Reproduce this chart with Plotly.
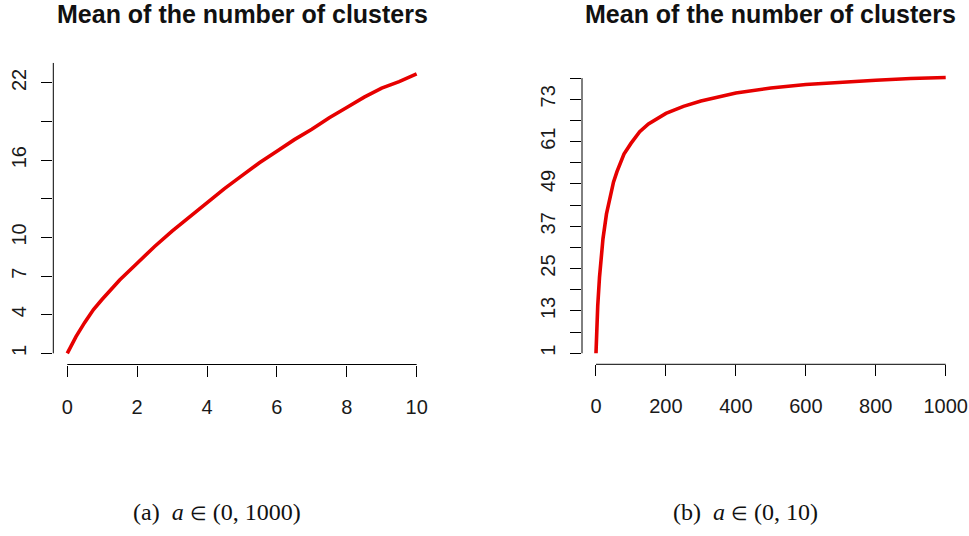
import plotly.graph_objects as go

# Mean number of clusters as a function of the concentration parameter a
a_small = [0, 0.25, 0.5, 0.75, 1, 1.5, 2, 2.5, 3, 3.5, 4, 4.5, 5, 5.5, 6,
           6.5, 7, 7.5, 8, 8.5, 9, 9.5, 10]
mean_small = [1.0, 2.3, 3.4, 4.4, 5.2, 6.7, 8.0, 9.3, 10.5, 11.6, 12.7, 13.8,
              14.8, 15.8, 16.7, 17.6, 18.4, 19.3, 20.1, 20.9, 21.6, 22.1, 22.7]

a_large = [0, 1, 2, 5, 10, 15, 20, 30, 40, 50, 60, 80, 100, 125, 150, 200,
           250, 300, 400, 500, 600, 700, 800, 900, 1000]
mean_large = [1.0, 5.0, 8.0, 14.5, 22.5, 28.5, 33.5, 40.5, 45.5, 49.5, 52.5,
              57.5, 60.5, 63.8, 66.0, 69.0, 71.0, 72.5, 74.8, 76.2, 77.2,
              77.9, 78.4, 78.9, 79.2]

ticks_left = [1, 4, 7, 10, 13, 16, 19, 22]
labels_left = ["1", "4", "7", "10", "", "16", "", "22"]
ticks_right = [1, 7, 13, 19, 25, 31, 37, 43, 49, 55, 61, 67, 73, 79]
labels_right = ["1", "", "13", "", "25", "", "37", "", "49", "", "61", "", "73", ""]
xticks_left = [0, 2, 4, 6, 8, 10]
xticks_right = [0, 200, 400, 600, 800, 1000]

title_text = "Mean of the number of clusters"
ELEM = '<span style="font-size:19px">∈</span>'
captions = ["(a)&nbsp;&nbsp;<i>a</i> " + ELEM + " (0, 1000)",
            "(b)&nbsp;&nbsp;<i>a</i> " + ELEM + " (0, 10)"]

W, H = 969, 536
RED = "#e60000"
TICK_FONT = dict(family="Liberation Sans, Arial, sans-serif", size=20, color="#1a1a1a")

fig = go.Figure()
fig.add_trace(go.Scatter(x=a_small, y=mean_small, mode="lines",
                         line=dict(color=RED, width=3.6), xaxis="x", yaxis="y",
                         showlegend=False, hoverinfo="skip"))
fig.add_trace(go.Scatter(x=a_large, y=mean_large, mode="lines",
                         line=dict(color=RED, width=3.6), xaxis="x2", yaxis="y2",
                         showlegend=False, hoverinfo="skip"))

def px_x(p):
    return p / W

def px_y(p):
    return 1 - p / H

def pad(lo, hi):
    d = (hi - lo) * 0.04
    return [lo - d, hi + d]

common_x = dict(showgrid=False, zeroline=False, showline=False, ticks="outside",
                ticklen=11, tickwidth=1, tickcolor="black", tickfont=TICK_FONT,
                ticklabelstandoff=13, fixedrange=True, automargin=False)
common_y = dict(showgrid=False, zeroline=False, showline=False, ticks="outside",
                ticklen=11, tickwidth=1, tickcolor="black", tickfont=TICK_FONT,
                tickangle=-90, ticklabelstandoff=7, fixedrange=True,
                automargin=False)

fig.update_layout(
    template="none",
    width=W, height=H,
    margin=dict(l=0, r=0, t=0, b=0, pad=0),
    paper_bgcolor="white", plot_bgcolor="white",
    xaxis=dict(common_x, domain=[px_x(53.3), px_x(430.6)],
               range=pad(min(a_small), max(a_small)),
               tickvals=xticks_left, anchor="y"),
    yaxis=dict(common_y, domain=[px_y(364.5), px_y(62.8)],
               range=pad(min(mean_small), max(mean_small)),
               tickvals=ticks_left, ticktext=labels_left, anchor="x"),
    xaxis2=dict(common_x, domain=[px_x(582), px_x(959.7)],
                range=pad(min(a_large), max(a_large)),
                tickvals=xticks_right, anchor="y2"),
    yaxis2=dict(common_y, domain=[px_y(364.3), px_y(66.4)],
                range=pad(min(mean_large), max(mean_large)),
                tickvals=ticks_right, ticktext=labels_right, anchor="x2"),
)

# Axis lines span only the tick range, clipped to the plotting region
line_style = dict(color="black", width=1)
fig.add_shape(type="line", xref="x", yref="y domain", x0=xticks_left[0],
              x1=xticks_left[-1], y0=0, y1=0, line=line_style)
fig.add_shape(type="line", xref="x domain", yref="y", x0=0, x1=0,
              y0=ticks_left[0], y1=pad(min(mean_small), max(mean_small))[1],
              line=line_style)
fig.add_shape(type="line", xref="x2", yref="y2 domain", x0=xticks_right[0],
              x1=xticks_right[-1], y0=0, y1=0, line=line_style)
fig.add_shape(type="line", xref="x2 domain", yref="y2", x0=0, x1=0,
              y0=ticks_right[0], y1=ticks_right[-1], line=line_style)

# Panel titles
for xc in (242, 770.5):
    fig.add_annotation(text="<b>" + title_text + "</b>", x=px_x(xc), y=px_y(14),
                       xref="paper", yref="paper", showarrow=False,
                       xanchor="center", yanchor="middle",
                       font=dict(family="Liberation Sans, Arial, sans-serif",
                                 size=25, color="#111"))

# Sub-figure captions
for xc, cap in zip((217, 745), captions):
    fig.add_annotation(text=cap, x=px_x(xc), y=px_y(512), xref="paper",
                       yref="paper", showarrow=False, xanchor="center",
                       yanchor="middle",
                       font=dict(family="Liberation Serif, serif", size=24,
                                 color="#111"))

fig.write_html("out.html")
